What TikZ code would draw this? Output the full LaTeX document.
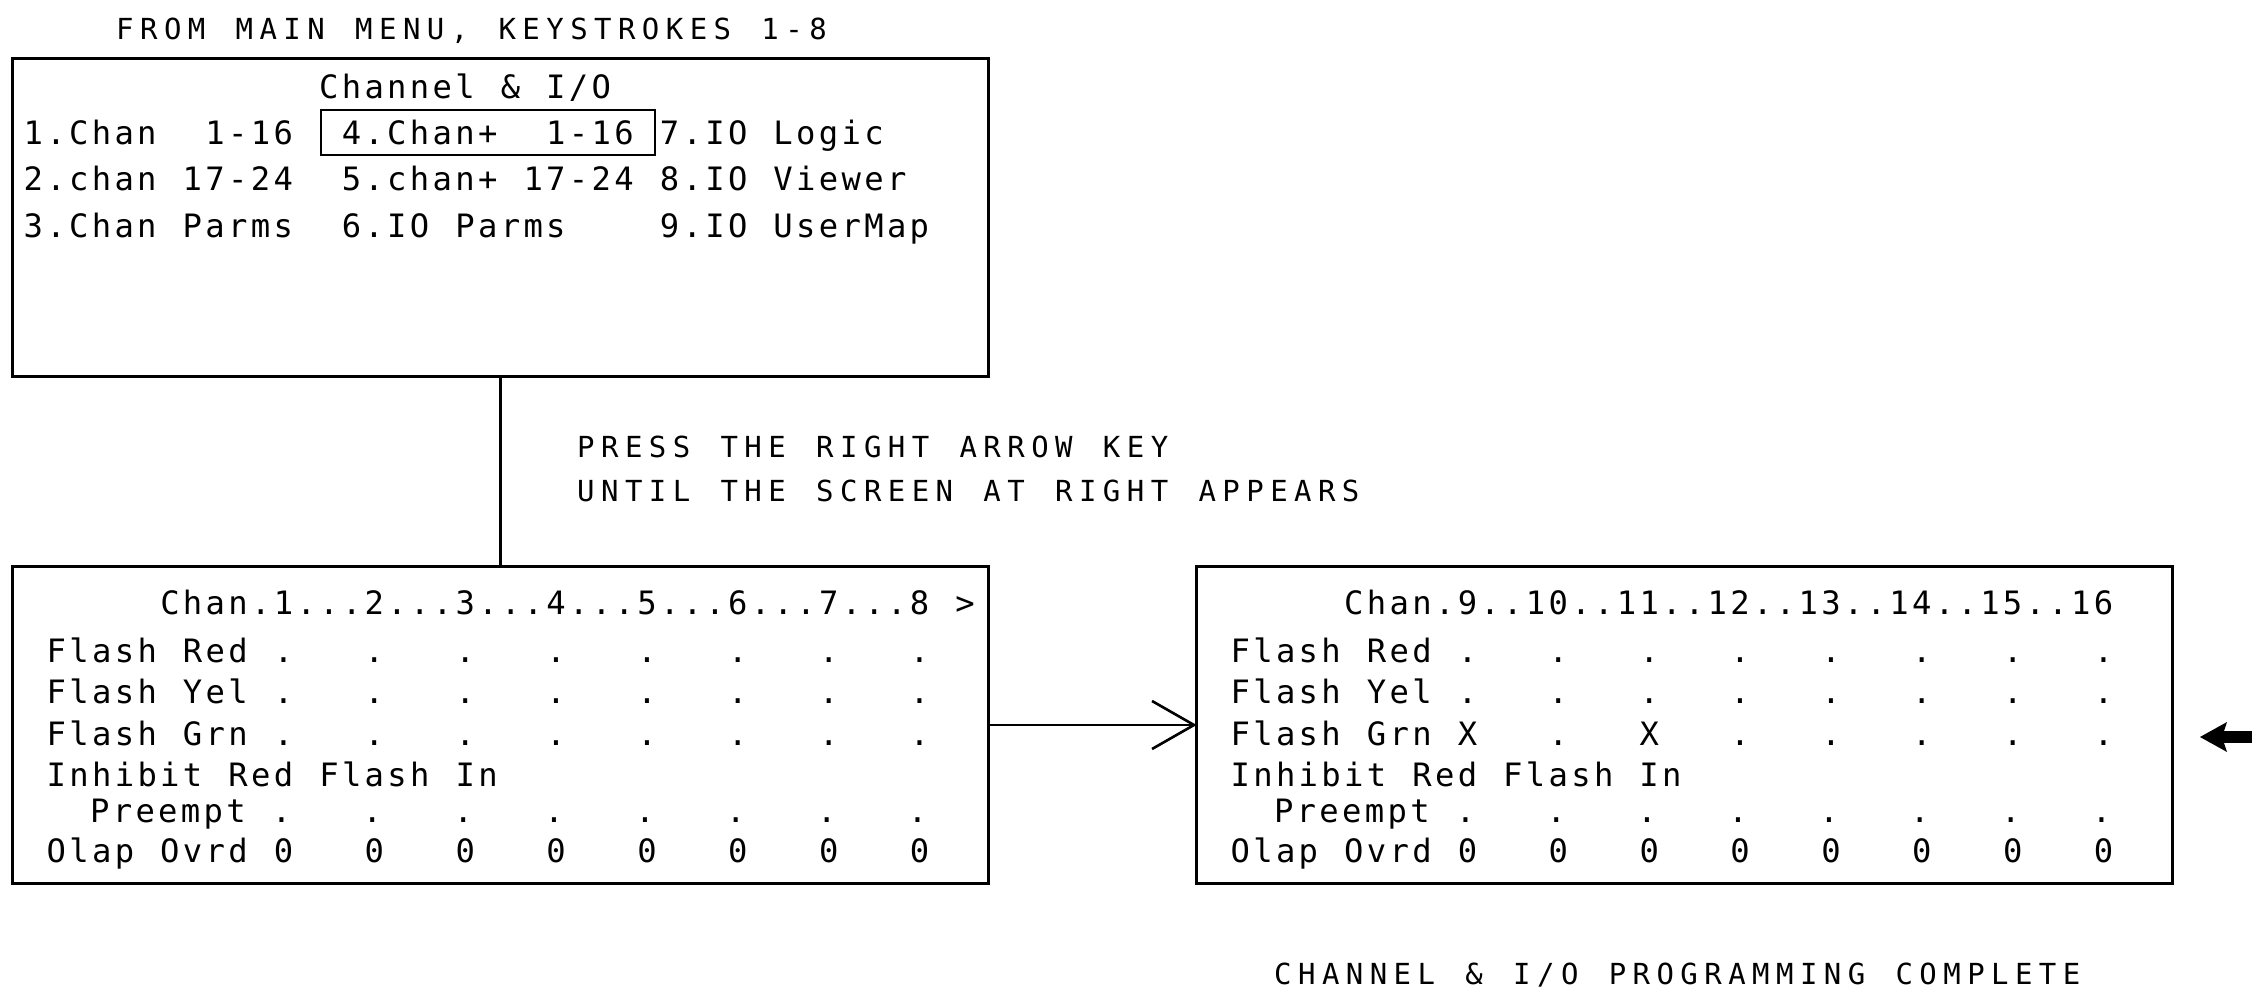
\documentclass[tikz,border=0pt]{standalone}
\usepackage{fontspec}
\usetikzlibrary{arrows.meta}
\newfontfamily\cadfont{DejaVu Sans Mono}
\ExplSyntaxOn
\NewDocumentCommand\monoline{mm}
 {
  \str_map_inline:nn {#2}
   {
    \str_if_eq:nnTF {##1} {_}
     { \hbox_to_wd:nn {#1} { } }
     { \hbox_to_wd:nn {#1} { \hfil ##1 \hfil } }
   }
 }
\ExplSyntaxOff
\newcommand\boxtxt[1]{{\cadfont\fontsize{32.2}{33}\selectfont\monoline{22.72pt}{#1}}}
\newcommand\lbltxt[1]{{\cadfont\fontsize{29}{30}\selectfont\monoline{23.9pt}{#1}}}
\tikzset{
  screen/.style={draw, line width=3pt, inner sep=0pt, outer sep=0pt,
                 minimum width=975.7pt, minimum height=317pt},
  txt/.style={anchor=base west, inner sep=0pt, outer sep=0pt},
  hilite/.style={draw, line width=2.5pt, anchor=base, inner xsep=19.3pt,
                 inner ysep=11pt, text height=23pt, text depth=0pt, outer sep=0pt},
  conn/.style={line width=2.6pt},
}
\begin{document}
\begin{tikzpicture}[x=1pt,y=-1pt]
\useasboundingbox (0,0) rectangle (2252,998);
% title
\node[txt] (title) at (113,40) {\lbltxt{FROM MAIN MENU, KEYSTROKES 1-8}};
% menu screen
\node[screen] (menu) at (500.6,217.5) {};
\node[txt] (mhead) at (317.4,99) {\boxtxt{Channel & I/O}};
\node[txt] (m1) at (22,144) {\boxtxt{1.Chan__1-16}};
\node[hilite] (m4) at (487.8,144) {\boxtxt{4.Chan+__1-16}};
\node[txt] (m7) at (658.2,144) {\boxtxt{7.IO Logic}};
\node[txt] (m2) at (22,190) {\boxtxt{2.chan 17-24}};
\node[txt] (m5) at (340.1,190) {\boxtxt{5.chan+ 17-24}};
\node[txt] (m8) at (658.2,190) {\boxtxt{8.IO Viewer}};
\node[txt] (m3) at (22,237) {\boxtxt{3.Chan Parms}};
\node[txt] (m6) at (340.1,237) {\boxtxt{6.IO Parms}};
\node[txt] (m9) at (658.2,237) {\boxtxt{9.IO UserMap}};
% instruction
\node[txt] (press1) at (574,457) {\lbltxt{PRESS THE RIGHT ARROW KEY}};
\node[txt] (press2) at (574,501) {\lbltxt{UNTIL THE SCREEN AT RIGHT APPEARS}};
% left screen
\node[screen] (left) at (500.6,725) {};
\node[txt] (lh) at (45,614) {\boxtxt{_____Chan.1...2...3...4...5...6...7...8_>}};
\node[txt] (lr) at (45,662) {\boxtxt{Flash Red .___.___.___.___.___.___.___.}};
\node[txt] (ly) at (45,703) {\boxtxt{Flash Yel .___.___.___.___.___.___.___.}};
\node[txt] (lg) at (45,745) {\boxtxt{Flash Grn .___.___.___.___.___.___.___.}};
\node[txt] (li) at (45,786) {\boxtxt{Inhibit Red Flash In}};
\node[txt] (lp) at (43,822) {\boxtxt{__Preempt .___.___.___.___.___.___.___.}};
\node[txt] (lo) at (45,862) {\boxtxt{Olap Ovrd 0___0___0___0___0___0___0___0}};
% right screen
\node[screen] (right) at (1684.5,725) {};
\node[txt] (rh) at (1228.9,614) {\boxtxt{_____Chan.9..10..11..12..13..14..15..16}};
\node[txt] (rr) at (1228.9,662) {\boxtxt{Flash Red .___.___.___.___.___.___.___.}};
\node[txt] (ry) at (1228.9,703) {\boxtxt{Flash Yel .___.___.___.___.___.___.___.}};
\node[txt] (rg) at (1228.9,745) {\boxtxt{Flash Grn X___.___X___.___.___.___.___.}};
\node[txt] (ri) at (1228.9,786) {\boxtxt{Inhibit Red Flash In}};
\node[txt] (rp) at (1226.9,822) {\boxtxt{__Preempt .___.___.___.___.___.___.___.}};
\node[txt] (ro) at (1228.9,862) {\boxtxt{Olap Ovrd 0___0___0___0___0___0___0___0}};
% bottom label
\node[txt] (done) at (1271,984) {\lbltxt{CHANNEL & I/O PROGRAMMING COMPLETE}};
% connectors
\draw[conn] (menu.south) -- (left.north);
\draw[conn, -{Straight Barb[length=42pt, width=48pt, line width=2.6pt]}] (left.east) -- (right.west);
\coordinate (fend) at (2252,737);
\coordinate (ftip) at (2200,737);
\draw[line width=12pt, -{Stealth[length=27pt, width=30pt, inset=5pt, line width=0pt]}] (fend) -- (ftip);
\end{tikzpicture}
\end{document}
